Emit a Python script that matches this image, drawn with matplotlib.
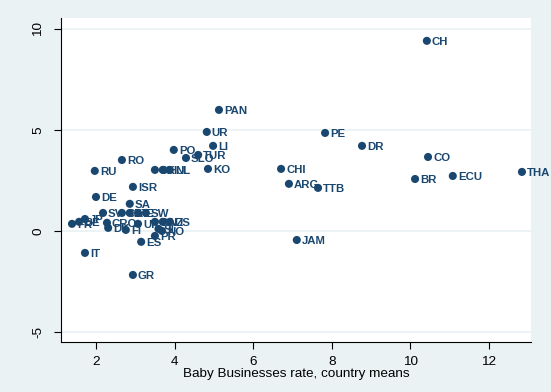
import matplotlib
matplotlib.use("Agg")
import matplotlib.pyplot as plt

labels = ["CH", "PAN", "UR", "PE", "LI", "DR", "PO", "SLO", "TUR", "KO",
          "SK", "HU", "NL", "RO", "RU", "CHI", "CO", "ARG", "TTB", "BR",
          "ECU", "THA", "ISR", "DE", "SA", "JAM", "IT", "ES", "GR", "FR",
          "BE", "JP", "SV", "CZ", "AT", "IE", "SW", "CRO", "UK", "CA",
          "NZ", "US", "PR", "NO", "SI", "DK", "FI"]
baby_rate = [10.42, 5.13, 4.82, 7.83, 4.98, 8.77, 3.98, 4.29, 4.60, 4.85,
             3.50, 3.70, 3.88, 2.66, 1.97, 6.71, 10.45, 6.91, 7.65, 10.12,
             11.08, 12.84, 2.94, 2.00, 2.86, 7.11, 1.72, 3.15, 2.94, 1.39,
             1.57, 1.72, 2.18, 2.66, 2.86, 3.07, 3.27, 2.28, 3.07, 3.50,
             3.70, 3.88, 3.50, 3.68, 3.59, 2.31, 2.76]
growth = [9.41, 5.99, 4.90, 4.85, 4.21, 4.21, 4.01, 3.61, 3.76, 3.07,
          3.02, 3.02, 3.02, 3.51, 2.97, 3.07, 3.66, 2.33, 2.13, 2.57,
          2.72, 2.92, 2.18, 1.68, 1.34, -0.45, -1.09, -0.54, -2.18, 0.35,
          0.45, 0.59, 0.89, 0.89, 0.89, 0.89, 0.89, 0.40, 0.35, 0.45,
          0.45, 0.45, -0.25, 0.00, 0.10, 0.15, 0.05]
xticks = [2, 4, 6, 8, 10, 12]
yticks = [-5, 0, 5, 10]
xlabel = "Baby Businesses rate, country means"

navy = "#1a476f"
bg = "#eaf2f3"

fig = plt.figure(figsize=(5.51, 3.92), dpi=100, facecolor=bg)
ax = fig.add_axes([61 / 551, 1 - 342 / 392, 470 / 551, 324 / 392])
ax.set_facecolor("white")

for y in yticks:
    ax.axhline(y, color=bg, lw=1.3, zorder=0)

ax.scatter(baby_rate, growth, s=34, color=navy, edgecolor="none", zorder=3)
for x, y, lab in zip(baby_rate, growth, labels):
    ax.annotate(lab, (x, y), xytext=(3.6, -0.6), textcoords="offset points",
                va="center", ha="left", fontsize=8.2, fontweight="bold",
                color=navy, family="Liberation Sans", zorder=4)

ax.set_xlim(1.11, 13.07)
ax.set_ylim(-5.5, 10.54)
ax.set_xticks(xticks)
ax.set_yticks(yticks)
ax.set_xticklabels([str(t) for t in xticks], family="Liberation Sans", fontsize=9.7)
ax.set_yticklabels([str(t) for t in yticks], family="Liberation Sans", fontsize=9.7,
                   rotation=90, va="center")
ax.tick_params(direction="out", length=5, width=0.8, color="black")
ax.tick_params(axis="x", pad=5)
ax.tick_params(axis="y", pad=7)
ax.set_xlabel(xlabel, family="Liberation Sans", fontsize=9.7, labelpad=0)

for s in ["top", "right"]:
    ax.spines[s].set_visible(False)
for s in ["left", "bottom"]:
    ax.spines[s].set_color("black")
    ax.spines[s].set_linewidth(0.8)

fig.savefig("out.png", dpi=100, facecolor=bg)
